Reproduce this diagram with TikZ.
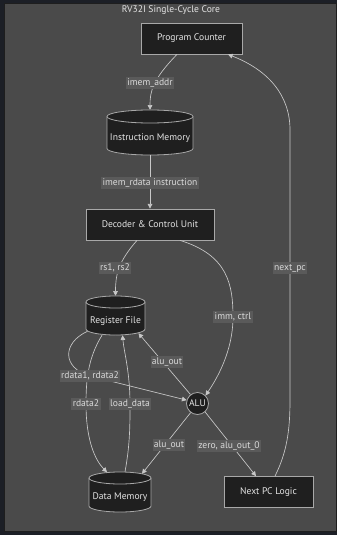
\documentclass[tikz,border=0pt]{standalone}
\usepackage{fontspec}
\setmainfont{PT Sans}
\usetikzlibrary{calc,arrows.meta}
\definecolor{framec}{HTML}{1C1F26}
\definecolor{bgc}{HTML}{4A4A4A}
\definecolor{nodefill}{HTML}{1F1F1F}
\definecolor{nodeline}{HTML}{A8A8A8}
\definecolor{txt}{HTML}{E4E4E4}
\definecolor{edgec}{HTML}{C8C8C8}
\definecolor{lblbg}{HTML}{5A5A5A}
\definecolor{lbltxt}{HTML}{DADADA}
\tikzset{
  myfont/.style={font=\fontsize{7.2}{8.6}\selectfont},
  box/.style={draw=nodeline, fill=nodefill, line width=0.6pt, text=txt, myfont, inner sep=0pt},
  cylt/.style={text=txt, myfont, inner sep=0pt},
  cylline/.style={draw=nodeline, fill=nodefill, line width=0.6pt},
  edge/.style={draw=edgec, line width=0.5pt, -{Triangle[length=3.5pt,width=3.5pt]}},
  lbl/.style={fill=lblbg, text=lbltxt, myfont, inner xsep=1pt, inner ysep=1pt, text height=5.4pt, text depth=1.6pt}
}
% #1 name, #2 cx, #3 cy, #4 w, #5 h, #6 ellipse half height, #7 text
\newcommand\mycyl[7]{%
  \pgfmathsetmacro\cyA{#2-#4/2}%
  \pgfmathsetmacro\cyB{#2+#4/2}%
  \pgfmathsetmacro\cyT{#3-#5/2+#6}%
  \pgfmathsetmacro\cyD{#3+#5/2-#6}%
  \pgfmathsetmacro\cyRx{#4/2*0.75}%
  \pgfmathsetmacro\cyRy{#6*0.75}%
  \pgfmathsetmacro\cyW{#4*0.75}%
  \pgfmathsetmacro\cyH{#5*0.75}%
  \pgfmathsetmacro\cyY{#3+#6*0.9}%
  \path[cylline] (\cyA,\cyT) -- (\cyA,\cyD)
     arc[start angle=180,end angle=360,x radius=\cyRx pt,y radius=\cyRy pt]
     -- (\cyB,\cyT)
     arc[start angle=0,end angle=180,x radius=\cyRx pt,y radius=\cyRy pt] -- cycle;
  \draw[draw=nodeline,line width=0.6pt] (\cyA,\cyT)
     arc[start angle=180,end angle=360,x radius=\cyRx pt,y radius=\cyRy pt];
  \node[inner sep=0pt, minimum width=\cyW pt, minimum height=\cyH pt] (#1) at (#2,#3) {};
  \node[cylt] (#1t) at (#2,\cyY) {#7};
}
\begin{document}
\begin{tikzpicture}[x=0.75pt,y=-0.75pt]
\useasboundingbox (0,0) rectangle (337,535);
\fill[framec] (0,0) rectangle (337,535);
\fill[bgc] (4,3) rectangle (337,532);
\draw[draw=black!60!bgc, line width=0.4pt] (4.3,3.3) rectangle (336.7,531.7);

\node[text=txt, myfont] (title) at (171,10) {RV32I Single-Cycle Core};

% nodes
\node[box, minimum width=75.75pt, minimum height=23.25pt] (pc) at (191.5,38.5) {Program Counter};
\mycyl{im}{150}{132.5}{86}{45}{6.5}{Instruction Memory}
\node[box, minimum width=96pt, minimum height=23.25pt] (dec) at (150,224.5) {Decoder \& Control Unit};
\mycyl{rf}{115.5}{315.5}{59}{39}{6}{Register File}
\node[box, circle, minimum size=16.5pt] (alu) at (197.5,403.5) {ALU};
\mycyl{dm}{120}{492}{62}{40}{6}{Data Memory}
\node[box, minimum width=66.75pt, minimum height=23.25pt] (npc) at (268.5,492) {Next PC Logic};

% connectors
\draw[edge] ($(pc.south)+(-14.5,0)$) .. controls (152,80) and (150,92) .. (im.north);
\draw[edge] (im.south) -- (dec.north);
\draw[edge] ($(dec.south)+(-13,0)$) .. controls (118,262) and (115.5,275) .. (rf.north);
\draw[edge] ($(dec.south)+(30,0)$) .. controls (228,255) and (233,285) .. (233,317)
   .. controls (233,352) and (216,380) .. (alu.45);
\draw[edge] ($(rf.south)+(-28,-4)$) .. controls (62,343) and (62,368) .. (90,376) -- (alu.163);
\draw[edge] ($(rf.south)+(-13.5,0)$) .. controls (88,358) and (86,380) .. (86,404)
   .. controls (86,440) and (95,460) .. ($(dm.north)+(-13,0.5)$);
\draw[edge] ($(dm.north)+(5,0)$) .. controls (130,445) and (130,425) .. (130,404)
   .. controls (130,372) and (124,352) .. ($(rf.south)+(7,0)$);
\draw[edge] (alu.128) -- ($(rf.south)+(23,-2)$);
\draw[edge] (alu.233) -- ($(dm.north)+(22,2)$);
\draw[edge] (alu.312) -- ($(npc.north)+(-12.5,0)$);
\draw[edge] ($(npc.north)+(6.5,0)$) .. controls (287,452) and (290,430) .. (290,400)
   -- (290,130) .. controls (290,95) and (268,70) .. ($(pc.south)+(36.5,0)$);

% edge labels
\node[lbl] (l1) at (150,83) {imem\_addr};
\node[lbl] (l2) at (150,182.5) {imem\_rdata instruction};
\node[lbl] (l3) at (115,268) {rs1, rs2};
\node[lbl] (l4) at (233,317) {imm, ctrl};
\node[lbl] (l5) at (290,268) {next\_pc};
\node[lbl] (l6) at (167,362) {alu\_out};
\node[lbl] (l7) at (90,376) {rdata1, rdata2};
\node[lbl] (l8) at (86,404) {rdata2};
\node[lbl] (l9) at (130,404) {load\_data};
\node[lbl] (l10) at (169,444.5) {alu\_out};
\node[lbl] (l11) at (229,446) {zero, alu\_out\_0};
\end{tikzpicture}
\end{document}
